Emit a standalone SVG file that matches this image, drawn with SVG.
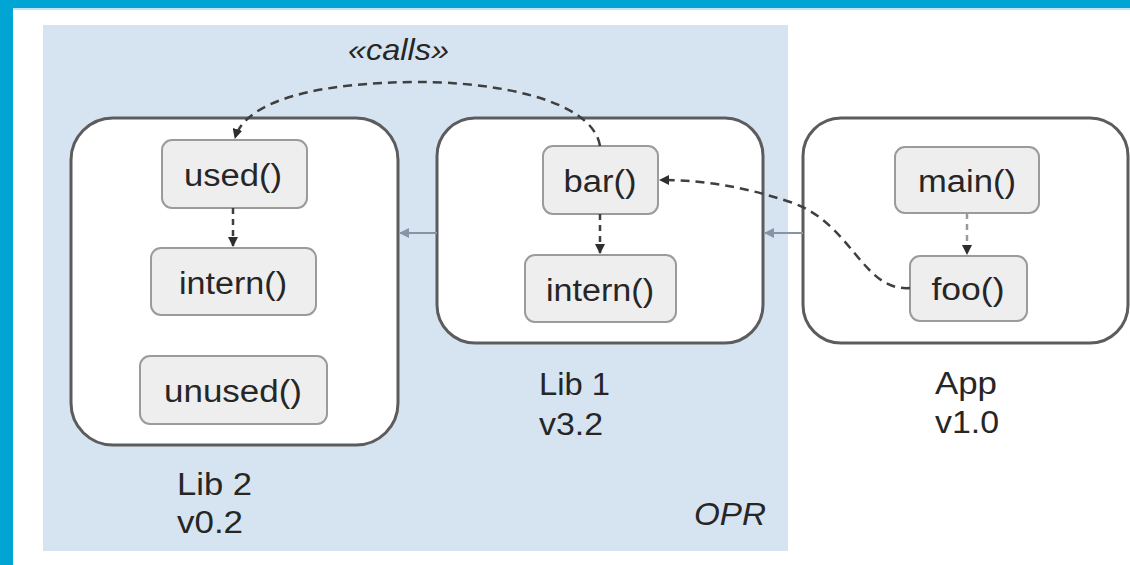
<svg xmlns="http://www.w3.org/2000/svg" width="1130" height="565" viewBox="0 0 1130 565">
  <defs>
    <style>
      .frame { fill: #00a5d4; }
      .zone { fill: #d6e4f1; }
      .comp { fill: #ffffff; stroke: #5c5c5c; stroke-width: 3; }
      .fn { fill: #eeeeee; stroke: #9b9b9b; stroke-width: 2; }
      .t { font-family: "Liberation Sans", Arial, sans-serif; fill: #262626; }
      .fnt { font-size: 31px; text-anchor: middle; }
      .lbl { font-size: 32px; }
      .it { font-style: italic; }
      .dash { fill: none; stroke: #3f3f3f; stroke-width: 2.5; stroke-dasharray: 9 6; }
      .dep { fill: none; stroke: #8794a3; stroke-width: 2; }
    </style>
    <marker id="ah" viewBox="0 0 10 10" refX="9" refY="5" markerWidth="4" markerHeight="4" orient="auto" markerUnits="strokeWidth">
      <path d="M0,0 L10,5 L0,10 z" fill="#2e2e2e"/>
    </marker>
    <marker id="ahg" viewBox="0 0 10 10" refX="9" refY="5" markerWidth="5" markerHeight="5" orient="auto" markerUnits="strokeWidth">
      <path d="M0,0 L10,5 L0,10 z" fill="#8794a3"/>
    </marker>
  </defs>

  <rect x="0" y="0" width="1130" height="565" fill="#ffffff"/>
  <rect class="frame" x="0" y="0" width="1130" height="8"/>
  <rect x="13" y="8" width="1117" height="2" fill="#bfe6f3"/>
  <rect class="frame" x="0" y="0" width="13" height="565"/>

  <g id="opr">
    <rect class="zone" x="43" y="25" width="745" height="526"/>
    <text class="t lbl it" x="766" y="525" text-anchor="end" textLength="72" lengthAdjust="spacingAndGlyphs">OPR</text>
  </g>

  <g id="lib2">
    <rect class="comp" x="71" y="118" width="327" height="327" rx="42"/>
    <text class="t lbl" x="177" y="495" textLength="75" lengthAdjust="spacingAndGlyphs">Lib 2</text>
    <text class="t lbl" x="177" y="533" textLength="66" lengthAdjust="spacingAndGlyphs">v0.2</text>
  </g>
  <g id="lib2-used">
    <rect class="fn" x="162" y="140" width="145" height="68" rx="10"/>
    <text class="t fnt" x="233" y="186" textLength="98" lengthAdjust="spacingAndGlyphs">used()</text>
  </g>
  <g id="lib2-intern">
    <rect class="fn" x="151" y="248" width="165" height="67" rx="10"/>
    <text class="t fnt" x="233" y="294" textLength="108" lengthAdjust="spacingAndGlyphs">intern()</text>
  </g>
  <g id="lib2-unused">
    <rect class="fn" x="140" y="356" width="187" height="68" rx="10"/>
    <text class="t fnt" x="233" y="402" textLength="138" lengthAdjust="spacingAndGlyphs">unused()</text>
  </g>

  <g id="lib1">
    <rect class="comp" x="437" y="118" width="326" height="225" rx="38"/>
    <text class="t lbl" x="539" y="395" textLength="71" lengthAdjust="spacingAndGlyphs">Lib 1</text>
    <text class="t lbl" x="539" y="435" textLength="64" lengthAdjust="spacingAndGlyphs">v3.2</text>
  </g>
  <g id="lib1-bar">
    <rect class="fn" x="543" y="146" width="115" height="68" rx="10"/>
    <text class="t fnt" x="600" y="192" textLength="73" lengthAdjust="spacingAndGlyphs">bar()</text>
  </g>
  <g id="lib1-intern">
    <rect class="fn" x="525" y="255" width="151" height="67" rx="10"/>
    <text class="t fnt" x="600" y="301" textLength="108" lengthAdjust="spacingAndGlyphs">intern()</text>
  </g>

  <g id="app">
    <rect class="comp" x="803" y="118" width="325" height="225" rx="38"/>
    <text class="t lbl" x="935" y="394" textLength="62" lengthAdjust="spacingAndGlyphs">App</text>
    <text class="t lbl" x="935" y="433" textLength="64" lengthAdjust="spacingAndGlyphs">v1.0</text>
  </g>
  <g id="app-main">
    <rect class="fn" x="895" y="147" width="144" height="66" rx="10"/>
    <text class="t fnt" x="967" y="192" textLength="98" lengthAdjust="spacingAndGlyphs">main()</text>
  </g>
  <g id="app-foo">
    <rect class="fn" x="910" y="256" width="117" height="65" rx="10"/>
    <text class="t fnt" x="968" y="300" textLength="73" lengthAdjust="spacingAndGlyphs">foo()</text>
  </g>

  <g id="connectors">
    <line class="dep" x1="803" y1="233" x2="765" y2="233" marker-end="url(#ahg)"/>
    <line class="dep" x1="437" y1="233" x2="400" y2="233" marker-end="url(#ahg)"/>
    <line class="dash" x1="233" y1="208" x2="233" y2="246" marker-end="url(#ah)" style="stroke-dasharray:6 5"/>
    <line class="dash" x1="600" y1="214" x2="600" y2="253" marker-end="url(#ah)" style="stroke-dasharray:6 5"/>
    <line class="dash" x1="967" y1="213" x2="967" y2="254" marker-end="url(#ah)" style="stroke-dasharray:6 5;stroke:#9a9a9a"/>
    <path class="dash" d="M600 146 C592 98 490 82 420 82 C320 82 246 100 235 138" marker-end="url(#ah)"/>
    <path class="dash" d="M910 288 C862 292 852 222 790 202 C745 187 705 180 660 180" marker-end="url(#ah)"/>
    <text class="t it" x="348" y="60" font-size="30" textLength="101" lengthAdjust="spacingAndGlyphs">«calls»</text>
  </g>
</svg>
